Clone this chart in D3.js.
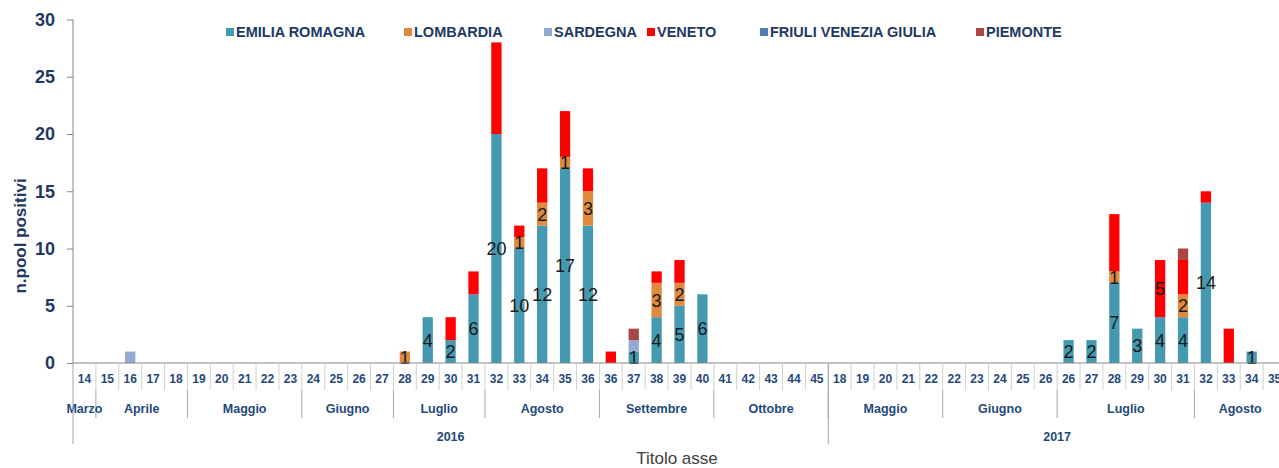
<!DOCTYPE html>
<html>
<head>
<meta charset="utf-8">
<script src="https://cdn.jsdelivr.net/npm/d3@7"></script>
<style>
  html, body { margin: 0; padding: 0; background: #fff; overflow: hidden; }
  svg { display: block; }
</style>
</head>
<body>
<svg id="chart" width="1279" height="468"></svg>
<script>
// ---------- DATA ----------
const weeks = [
  // 2016
  "14",
  "15","16","17","18",
  "19","20","21","22","23",
  "24","25","26","27",
  "28","29","30","31",
  "32","33","34","35","36",
  "36","37","38","39","40",
  "41","42","43","44","45",
  // 2017
  "18","19","20","21","22",
  "22","23","24","25","26",
  "26","27","28","29","30","31",
  "32","33","34","35"
];
const monthNames = ["Marzo","Aprile","Maggio","Giugno","Luglio","Agosto","Settembre","Ottobre",
                    "Maggio","Giugno","Luglio","Agosto"];
const monthSpans = [1,4,5,4,4,5,5,5, 5,5,6,4];
const yearNames = ["2016","2017"];
const yearSpans = [33,20];

const seriesNames = ["EMILIA ROMAGNA","LOMBARDIA","SARDEGNA","VENETO","FRIULI VENEZIA GIULIA","PIEMONTE"];
const seriesColors = ["#4599B0","#DF8A3E","#94A9D4","#FF0000","#4F7DB5","#A94643"];

const emilia = [
  0, 0,0,0,0, 0,0,0,0,0, 0,0,0,0, 0,4,2,6, 20,10,12,17,12, 0,1,4,5,6, 0,0,0,0,0,
  0,0,0,0,0, 0,0,0,0,0, 2,2,7,3,4,4, 14,0,1,0
];
const lombardia = [
  0, 0,0,0,0, 0,0,0,0,0, 0,0,0,0, 1,0,0,0, 0,1,2,1,3, 0,0,3,2,0, 0,0,0,0,0,
  0,0,0,0,0, 0,0,0,0,0, 0,0,1,0,0,2, 0,0,0,0
];
const sardegna = [
  0, 0,1,0,0, 0,0,0,0,0, 0,0,0,0, 0,0,0,0, 0,0,0,0,0, 0,1,0,0,0, 0,0,0,0,0,
  0,0,0,0,0, 0,0,0,0,0, 0,0,0,0,0,0, 0,0,0,0
];
const veneto = [
  0, 0,0,0,0, 0,0,0,0,0, 0,0,0,0, 0,0,2,2, 8,1,3,4,2, 1,0,1,2,0, 0,0,0,0,0,
  0,0,0,0,0, 0,0,0,0,0, 0,0,5,0,5,3, 1,3,0,0
];
const friuli = [
  0, 0,0,0,0, 0,0,0,0,0, 0,0,0,0, 0,0,0,0, 0,0,0,0,0, 0,0,0,0,0, 0,0,0,0,0,
  0,0,0,0,0, 0,0,0,0,0, 0,0,0,0,0,0, 0,0,0,0
];
const piemonte = [
  0, 0,0,0,0, 0,0,0,0,0, 0,0,0,0, 0,0,0,0, 0,0,0,0,0, 0,1,0,0,0, 0,0,0,0,0,
  0,0,0,0,0, 0,0,0,0,0, 0,0,0,0,0,1, 0,0,0,0
];
// which series get data labels (Veneto only has one visible label)
const labelledSeries = ["EMILIA ROMAGNA","LOMBARDIA"];
const venetoLabelIdx = [47];   // 2017, week 30

const yTicks = [0,5,10,15,20,25,30];

// ---------- LAYOUT ----------
const svg = d3.select("#chart");
const plotLeft = 73, plotRight = 1286, plotTop = 19.5, plotBase = 363;
const navy = "#1F3864", axisBlue = "#1F497D", lineGrey = "#A6A6A6";

const idx = d3.range(weeks.length);
const x = d3.scaleBand().domain(idx).range([plotLeft, plotRight]).paddingInner(0.55).paddingOuter(0.275);
const y = d3.scaleLinear().domain([0,30]).range([plotBase, plotTop]);

const rows = idx.map(i => ({
  i,
  "EMILIA ROMAGNA": emilia[i], "LOMBARDIA": lombardia[i], "SARDEGNA": sardegna[i],
  "VENETO": veneto[i], "FRIULI VENEZIA GIULIA": friuli[i], "PIEMONTE": piemonte[i]
}));
const stacked = d3.stack().keys(seriesNames)(rows);
const color = d3.scaleOrdinal().domain(seriesNames).range(seriesColors);

// bars
const g = svg.append("g");
stacked.forEach(layer => {
  g.append("g").attr("fill", color(layer.key))
    .selectAll("rect").data(layer.filter(d => d[1] - d[0] > 0)).enter()
    .append("rect")
    .attr("x", d => x(d.data.i))
    .attr("width", x.bandwidth())
    .attr("y", d => y(d[1]))
    .attr("height", d => y(d[0]) - y(d[1]));
});

// data labels
stacked.forEach(layer => {
  const pts = layer.filter(d => d[1] - d[0] > 0 &&
      (labelledSeries.includes(layer.key) || (layer.key === "VENETO" && venetoLabelIdx.includes(d.data.i))));
  g.append("g").selectAll("text").data(pts).enter().append("text")
    .attr("x", d => x(d.data.i) + x.bandwidth()/2)
    .attr("y", d => y((d[0] + d[1]) / 2))
    .attr("dy", "0.36em")
    .attr("text-anchor", "middle")
    .attr("font-family", "Liberation Sans, Arial, sans-serif")
    .attr("font-size", 18)
    .attr("fill", "#1a1a1a")
    .text(d => d[1] - d[0]);
});

// y axis
const yAxis = svg.append("g").attr("transform", `translate(${plotLeft},0)`)
  .call(d3.axisLeft(y).tickValues(yTicks).tickSize(6).tickPadding(12));
yAxis.select(".domain").attr("stroke", "#868686").attr("d", `M0,${plotTop}V${plotBase}`);
yAxis.selectAll(".tick line").attr("stroke", "#868686");
yAxis.selectAll(".tick text")
  .attr("font-family", "Liberation Sans, Arial, sans-serif")
  .attr("font-size", 18).attr("font-weight", "bold").attr("fill", navy);

// x axis (week labels)
const xAxis = svg.append("g").attr("transform", `translate(0,${plotBase})`)
  .call(d3.axisBottom(x).tickFormat(i => weeks[i]).tickSize(0).tickPadding(11));
xAxis.select(".domain").attr("stroke", "#868686").attr("d", `M${plotLeft},0H${plotRight}`);
xAxis.selectAll(".tick text")
  .attr("font-family", "Liberation Sans, Arial, sans-serif")
  .attr("font-size", 12).attr("font-weight", "bold").attr("fill", axisBlue);

const step = x.step();
const boundary = k => x.range()[0] + k * step;

// week separators
svg.append("g").selectAll("line").data(d3.range(1, weeks.length + 1)).enter().append("line")
  .attr("x1", k => boundary(k)).attr("x2", k => boundary(k))
  .attr("y1", plotBase).attr("y2", plotBase + 27)
  .attr("stroke", "#D0D0D0").attr("stroke-width", 1);

// month separators & labels
const monthStarts = monthSpans.map((s, k) => d3.sum(monthSpans.slice(0, k)));
svg.append("g").selectAll("line").data(monthStarts.slice(1)).enter().append("line")
  .attr("x1", k => boundary(k)).attr("x2", k => boundary(k))
  .attr("y1", plotBase + 27).attr("y2", plotBase + 55)
  .attr("stroke", lineGrey).attr("stroke-width", 1);
svg.append("g").selectAll("text").data(monthNames).enter().append("text")
  .attr("x", (m, k) => boundary(monthStarts[k] + monthSpans[k] / 2))
  .attr("y", 408).attr("dy", "0.36em").attr("text-anchor", "middle")
  .attr("font-family", "Liberation Sans, Arial, sans-serif")
  .attr("font-size", 12.5).attr("font-weight", "bold").attr("fill", axisBlue)
  .text(m => m);

// year separators & labels
const yearStarts = yearSpans.map((s, k) => d3.sum(yearSpans.slice(0, k)));
svg.append("g").selectAll("line").data(yearStarts).enter().append("line")
  .attr("x1", k => boundary(k)).attr("x2", k => boundary(k))
  .attr("y1", plotBase).attr("y2", plotBase + 81)
  .attr("stroke", lineGrey).attr("stroke-width", 1);
svg.append("g").selectAll("text").data(yearNames).enter().append("text")
  .attr("x", (yr, k) => boundary(yearStarts[k] + yearSpans[k] / 2))
  .attr("y", 436).attr("dy", "0.36em").attr("text-anchor", "middle")
  .attr("font-family", "Liberation Sans, Arial, sans-serif")
  .attr("font-size", 12.5).attr("font-weight", "bold").attr("fill", axisBlue)
  .text(yr => yr);

// axis titles
svg.append("text")
  .attr("transform", `translate(20,236) rotate(-90)`)
  .attr("text-anchor", "middle").attr("dy", "0.36em")
  .attr("font-family", "Liberation Sans, Arial, sans-serif")
  .attr("font-size", 17).attr("font-weight", "bold").attr("fill", navy)
  .text("n.pool positivi");
svg.append("text")
  .attr("x", 677).attr("y", 458).attr("dy", "0.36em").attr("text-anchor", "middle")
  .attr("font-family", "Liberation Sans, Arial, sans-serif")
  .attr("font-size", 17).attr("fill", "#404040")
  .text("Titolo asse");

// legend
const legendX = [226, 404, 544, 647, 760, 976];
const lg = svg.append("g");
seriesNames.forEach((name, k) => {
  lg.append("rect").attr("x", legendX[k]).attr("y", 28).attr("width", 8).attr("height", 8)
    .attr("fill", seriesColors[k]);
  lg.append("text").attr("x", legendX[k] + 10).attr("y", 32).attr("dy", "0.36em")
    .attr("font-family", "Liberation Sans, Arial, sans-serif")
    .attr("font-size", 14.5).attr("font-weight", "bold").attr("fill", navy)
    .text(name);
});
</script>
</body>
</html>
